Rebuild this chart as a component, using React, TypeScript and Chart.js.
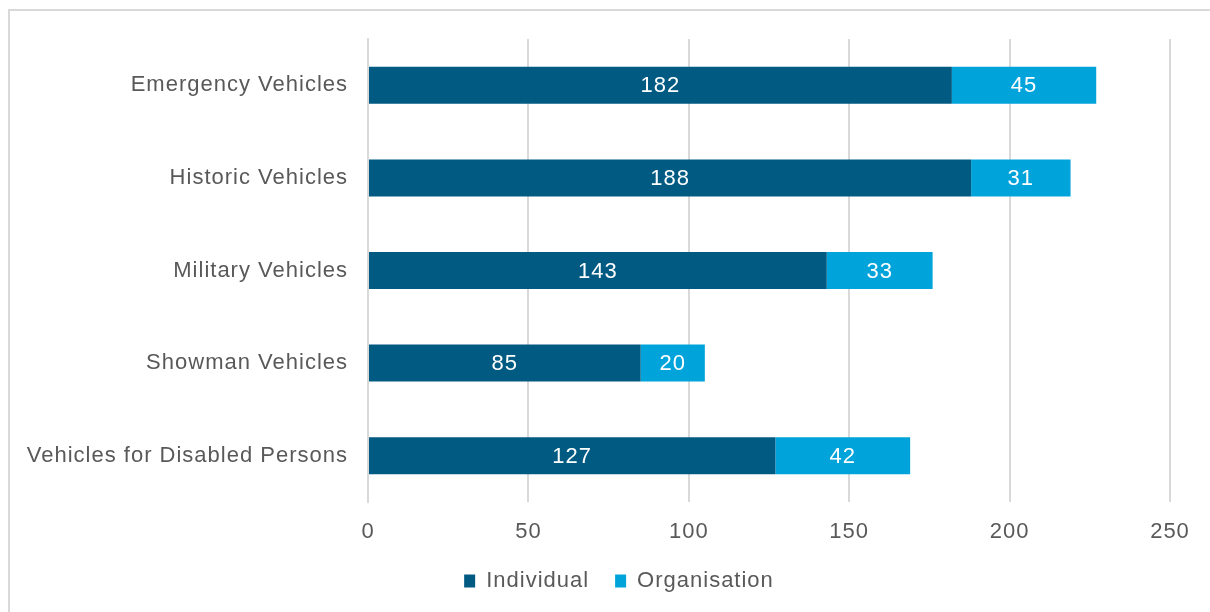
import React, { useEffect, useRef } from "react";
import { Chart, registerables } from "chart.js";

Chart.register(...registerables);

const categories = [
  "Emergency Vehicles",
  "Historic Vehicles",
  "Military Vehicles",
  "Showman Vehicles",
  "Vehicles for Disabled Persons",
];
const individual = [182, 188, 143, 85, 127];
const organisation = [45, 31, 33, 20, 42];
const xTicks = [0, 50, 100, 150, 200, 250];

const FONT = "'Liberation Sans', Arial, sans-serif";
const TEXT = "#595959";
const SPACING = "1px";

const spacingPlugin = {
  id: "spacing",
  beforeUpdate(chart: any) {
    chart.ctx.letterSpacing = SPACING;
  },
  beforeDraw(chart: any) {
    chart.ctx.letterSpacing = SPACING;
  },
  afterLayout(chart: any) {
    const lg = chart.legend;
    if (lg) {
      lg.left += 34;
      lg.right += 34;
    }
  },
};

const barLabels = {
  id: "barLabels",
  afterDatasetsDraw(chart: any) {
    const ctx = chart.ctx;
    ctx.save();
    ctx.letterSpacing = SPACING;
    ctx.fillStyle = "#ffffff";
    ctx.font = `22px ${FONT}`;
    ctx.textAlign = "center";
    ctx.textBaseline = "middle";
    chart.data.datasets.forEach((ds: any, di: number) => {
      const meta = chart.getDatasetMeta(di);
      meta.data.forEach((el: any, i: number) => {
        const x = (el.x + el.base) / 2;
        ctx.fillText(String(ds.data[i]), x, el.y + 1);
      });
    });
    ctx.restore();
  },
};

export default function App() {
  const ref = useRef<HTMLCanvasElement>(null);
  useEffect(() => {
    if (!ref.current) return;
    const chart = new Chart(ref.current, {
      type: "bar",
      data: {
        labels: categories,
        datasets: [
          {
            label: "Individual",
            data: individual,
            backgroundColor: "#005A82",
            categoryPercentage: 1,
            barPercentage: 0.4,
          },
          {
            label: "Organisation",
            data: organisation,
            backgroundColor: "#00A3DA",
            categoryPercentage: 1,
            barPercentage: 0.4,
          },
        ],
      },
      options: {
        indexAxis: "y",
        animation: false,
        responsive: true,
        maintainAspectRatio: false,
        layout: { padding: { top: 39, right: 40, bottom: 10, left: 0 } },
        scales: {
          x: {
            stacked: true,
            min: 0,
            max: 250,
            afterBuildTicks: (s: any) => {
              s.ticks = xTicks.map((v) => ({ value: v }));
            },
            afterFit: (s: any) => {
              s.height = 42;
            },
            grid: { color: "#d9d9d9", lineWidth: 2, drawTicks: false },
            border: { display: false },
            ticks: {
              color: TEXT,
              font: { family: FONT, size: 22 },
              padding: 17,
            },
          },
          y: {
            stacked: true,
            afterFit: (s: any) => {
              s.width = 368;
            },
            grid: { display: false, drawTicks: false },
            border: { display: true, color: "#d9d9d9", width: 2 },
            ticks: {
              color: TEXT,
              font: { family: FONT, size: 22 },
              padding: 20,
            },
          },
        },
        plugins: {
          legend: {
            position: "bottom",
            labels: {
              color: TEXT,
              font: { family: FONT, size: 22 },
              boxWidth: 11,
              boxHeight: 13,
              padding: 26,
            },
          },
          tooltip: { enabled: false },
        },
      },
      plugins: [spacingPlugin, barLabels],
    });
    return () => chart.destroy();
  }, []);
  return (
    <div style={{ position: "fixed", left: 0, top: 0, width: 1210, height: 612, background: "#fff", overflow: "hidden" }}>
      <div style={{ position: "absolute", left: 8, top: 9, width: 1220, height: 620, border: "2px solid #d9d9d9", boxSizing: "border-box" }} />
      <canvas ref={ref} style={{ position: "absolute", left: 0, top: 0, width: 1210, height: 612 }} />
    </div>
  );
}
